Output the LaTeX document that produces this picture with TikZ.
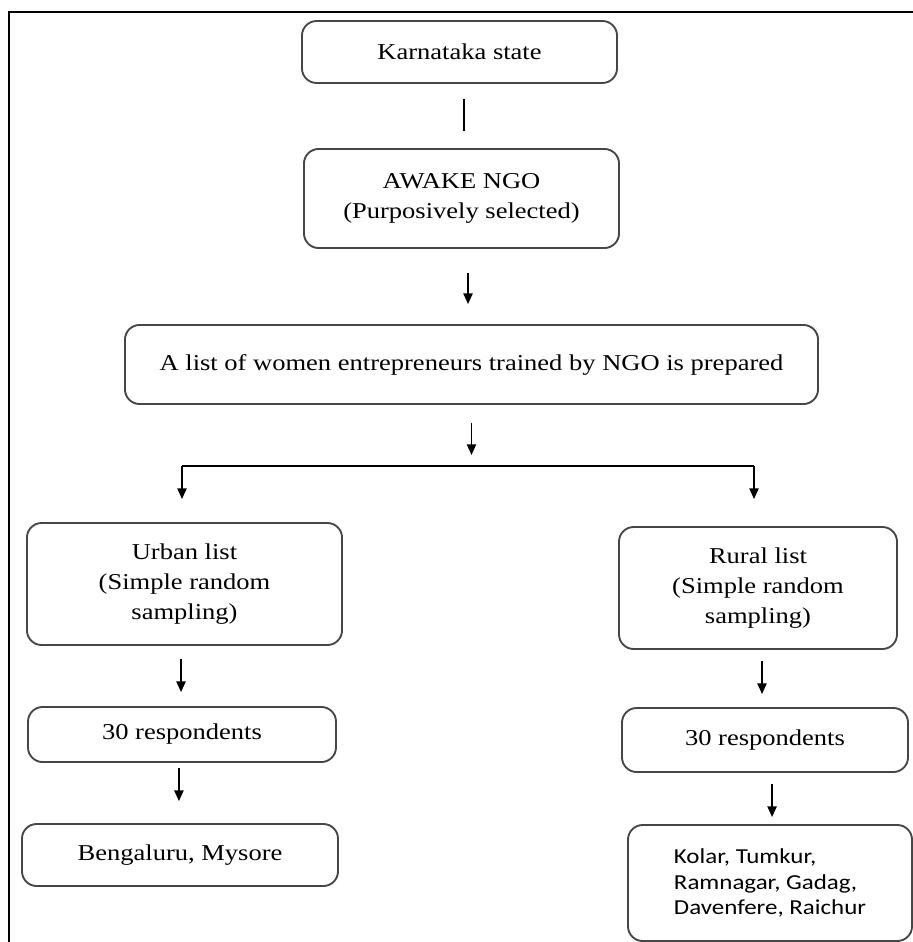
\documentclass[tikz,border=0pt]{standalone}
\usepackage{fontspec}
\setmainfont{Liberation Serif}[FakeStretch=1.17]
\newfontfamily\placefont{Carlito}[FakeStretch=1.17]
\usetikzlibrary{arrows.meta,positioning}
\definecolor{boxline}{RGB}{70,70,70}

\begin{document}
\begin{tikzpicture}[x=0.75pt,y=-0.75pt,
  stage/.style={draw=boxline,line width=1.4pt,rounded corners=11pt,align=center,inner sep=0pt,
    font=\fontsize{17pt}{22.5pt}\selectfont},
  flow/.style={line width=1pt,-{Triangle[length=8pt,width=7pt]}},
  link/.style={line width=1pt}]
  \useasboundingbox (0,0) rectangle (913,942);
  % frame, only top and left edge are left
  \draw[line width=2pt] (9,942) -- (9,12) -- (913,12);

  % boxes
  \node[stage,minimum width=236.3pt,minimum height=46.5pt] (kar) at (459.5,52) {Karnataka state};
  \node[stage,minimum width=236.3pt,minimum height=74.3pt] (ngo) at (461.5,198.5) {AWAKE NGO\\(Purposively selected)};
  \node[stage,minimum width=519.8pt,minimum height=59.3pt] (list) at (471.5,364.5) {A list of women entrepreneurs trained by NGO is prepared};
  \node[stage,minimum width=236.3pt,minimum height=91.5pt] (urban) at (184.5,584) {Urban list\\(Simple random\\sampling)};
  \node[stage,minimum width=208.5pt,minimum height=91.5pt] (rural) at (758,588) {Rural list\\(Simple random\\sampling)};
  \node[stage,minimum width=231pt,minimum height=41.3pt] (uresp) at (182,734.5) {30 respondents};
  \node[stage,minimum width=214.5pt,minimum height=48pt] (rresp) at (765,740) {30 respondents};
  \node[stage,minimum width=237pt,minimum height=46.5pt] (ucity) at (180,855) {Bengaluru, Mysore};
  \node[stage,minimum width=213pt,minimum height=87pt,align=left,
    font=\placefont\fontsize{16pt}{19pt}\selectfont] (rcity) at (770,883) {Kolar, Tumkur,\\Ramnagar, Gadag,\\Davenfere, Raichur};

  % split points
  \coordinate (split) at (471.5,466);
  \coordinate (uturn) at (182,466);
  \coordinate (rturn) at (754,466);

  % connectors
  \draw[link,shorten <=11.3pt,shorten >=12.8pt] ([xshift=3.4pt]kar.south) -- ([xshift=3.4pt]kar.south |- ngo.north);
  \draw[flow,shorten <=18pt,shorten >=15pt] ([xshift=4.9pt]ngo.south) -- ([xshift=4.9pt]ngo.south |- list.north);
  \draw[flow,shorten <=13.5pt,shorten >=8.3pt] (list.south) -- (split);
  \draw[link] (uturn) -- (rturn);
  \draw[flow,shorten >=17.3pt] (uturn) -- (uturn |- urban.north);
  \draw[flow,shorten >=20.3pt] (rturn) -- (rturn |- rural.north);
  \draw[flow,shorten <=9.8pt,shorten >=10.5pt] ([xshift=-2.6pt]urban.south) -- ([xshift=-2.6pt]urban.south |- uresp.north);
  \draw[flow,shorten <=3.8pt,shorten >=16.5pt] ([xshift=-2.3pt]uresp.south) -- ([xshift=-2.3pt]uresp.south |- ucity.north);
  \draw[flow,shorten <=8.3pt,shorten >=9.8pt] ([xshift=3pt]rural.south) -- ([xshift=3pt]rural.south |- rresp.north);
  \draw[flow,shorten <=8.3pt,shorten >=5.3pt] ([xshift=5.3pt]rresp.south) -- ([xshift=5.3pt]rresp.south |- rcity.north);
\end{tikzpicture}
\end{document}
